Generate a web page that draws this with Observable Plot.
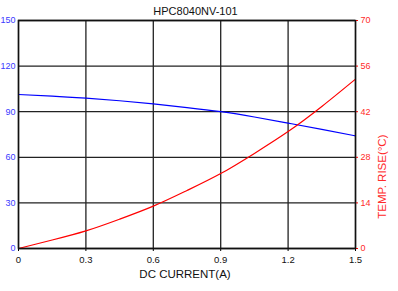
<!DOCTYPE html>
<html>
<head>
<meta charset="utf-8">
<script src="https://cdn.jsdelivr.net/npm/d3@7"></script>
<script src="https://cdn.jsdelivr.net/npm/@observablehq/plot@0.6"></script>
<style>
  html, body { margin: 0; padding: 0; background: #fff; }
  svg { font-family: "Liberation Sans", Arial, sans-serif; }
</style>
</head>
<body>
<div id="chart"></div>
<script>
const titleText = "HPC8040NV-101";
const xLabel = "DC CURRENT(A)";
const rightLabel = "TEMP. RISE(°C)";
const current = [0, 0.15, 0.3, 0.45, 0.6, 0.75, 0.9, 1.05, 1.2, 1.35, 1.5];
const inductance = [101.3, 100.3, 98.9, 97.2, 95.1, 92.7, 90.0, 86.5, 82.5, 78.4, 74.1];
const tempRise = [0, 2.6, 5.4, 9.0, 13.0, 17.8, 23.0, 29.2, 35.9, 43.6, 52.0];
const xTicks = [0, 0.3, 0.6, 0.9, 1.2, 1.5];
const leftTicks = [0, 30, 60, 90, 120, 150];
const rightTicks = [0, 14, 28, 42, 56, 70];
const leftMax = 150, rightMax = 70;
const k = leftMax / rightMax;

const indData = current.map((c, i) => ({x: c, y: inductance[i]}));
const tempData = current.map((c, i) => ({x: c, y: tempRise[i] * k}));

const chart = Plot.plot({
  width: 398,
  height: 291,
  marginLeft: 18,
  marginRight: 43,
  marginTop: 20,
  marginBottom: 43,
  style: {background: "#fff", fontFamily: "Liberation Sans, Arial, sans-serif"},
  x: {domain: [0, 1.5]},
  y: {domain: [0, leftMax]},
  marks: [
    Plot.gridX(xTicks, {stroke: "#222", strokeOpacity: 1, strokeWidth: 1.3}),
    Plot.gridY(leftTicks, {stroke: "#222", strokeOpacity: 1, strokeWidth: 1.3}),
    Plot.axisX(xTicks, {tickSize: 3, tickPadding: 5, fontSize: 9.5, label: null, tickFormat: d => String(d), fill: "#111"}),
    Plot.axisY(leftTicks, {anchor: "left", tickSize: 0, tickPadding: 3, fontSize: 9, label: null, fill: "#3a3aff", tickFormat: d => String(d)}),
    Plot.axisY(rightTicks.map(v => v * k), {anchor: "right", tickSize: 2, tickPadding: 3, fontSize: 9, label: null, fill: "#ff2a2a", stroke: "red", tickFormat: d => String(Math.round(d / k))}),
    Plot.line(indData, {x: "x", y: "y", stroke: "#0000ff", strokeWidth: 1.2, curve: "natural"}),
    Plot.line(tempData, {x: "x", y: "y", stroke: "#ff0000", strokeWidth: 1.2, curve: "natural"}),
    Plot.frame({stroke: "#111", strokeWidth: 1.5}),
    Plot.text([titleText], {frameAnchor: "top", lineAnchor: "middle", dy: -9, dx: 8.5, fontSize: 11, fill: "#111"}),
    Plot.text([xLabel], {frameAnchor: "bottom", lineAnchor: "middle", dy: 25.5, dx: -2, fontSize: 11.5, fill: "#111"}),
    Plot.text([rightLabel], {frameAnchor: "right", lineAnchor: "middle", dx: 27, dy: 0, rotate: -90, fontSize: 11.5, fill: "#ff2a2a"})
  ]
});
document.getElementById("chart").appendChild(chart);
</script>
</body>
</html>
